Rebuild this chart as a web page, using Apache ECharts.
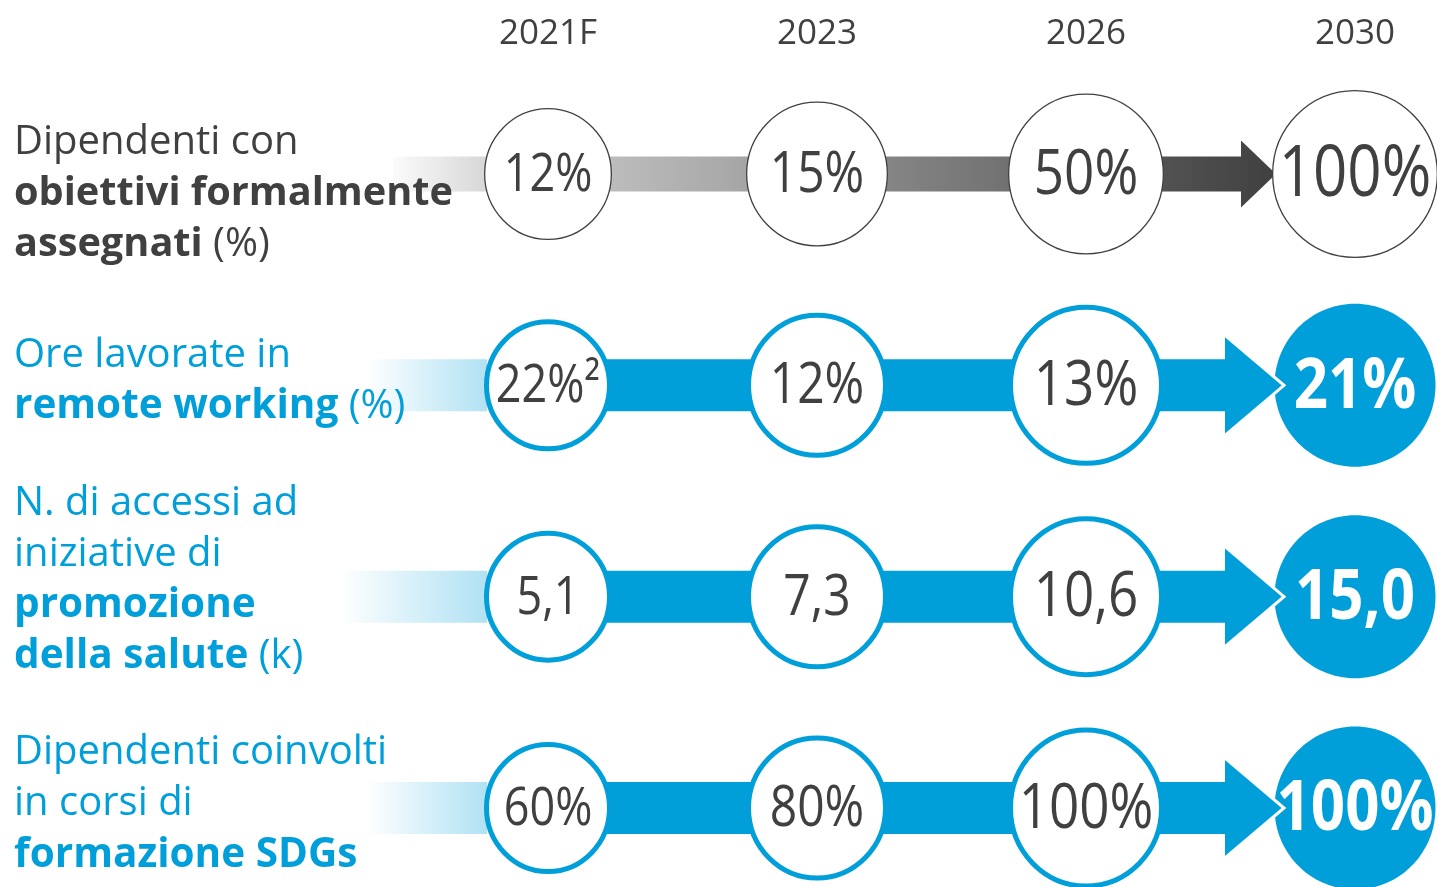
<!DOCTYPE html>
<html><head><meta charset="utf-8">
<script src="https://cdn.jsdelivr.net/npm/echarts@6/dist/echarts.min.js"></script>
<style>html,body{margin:0;padding:0;background:#fff}#c{width:1437px;height:887px}</style>
</head><body><div id="c"></div>
<script>
// ---------- DATA ----------
const years = ['2021F', '2023', '2026', '2030'];
const metrics = ['obiettivi', 'remote', 'salute', 'sdgs'];
const metricLabels = [
  '{g|Dipendenti con}\n{gb|obiettivi formalmente}\n{gb|assegnati}{g| (%)}',
  '{c|Ore lavorate in}\n{cb|remote working}{c| (%)}',
  '{c|N. di accessi ad}\n{c|iniziative di}\n{cb|promozione}\n{cb|della salute}{c| (k)}',
  '{c|Dipendenti coinvolti}\n{c|in corsi di}\n{cb|formazione SDGs}'
];
const obiettiviValues = [12, 15, 50, 100];
const remoteValues = [22, 12, 13, 21];
const saluteValues = [5.1, 7.3, 10.6, 15.0];
const sdgsValues = [60, 80, 100, 100];
const valueUnits = ['%', '%', '', '%'];
const valueDecimals = [0, 0, 1, 0];
const remoteFootnotes = ['²', '', '', ''];

// ---------- STYLE ----------
const GRAY = '#404040', BLUE = '#009FDA', FONT = '"Open Sans", "Noto Sans", sans-serif';
const circleRx = [64, 71, 78, 83];
const circleRy = [66, 72.5, 80.5, 84];
const valueFontSize = [45, 48, 53, 60];
const valueScaleY = 1.18;
const rowStyle = [
  { gray: true, fade: 155, bandH: 35, headH: 67, headLen: 35, tipGap: 4, labelPad: [40, 0, 0, 0] },
  { gray: false, fade: 181, bandH: 52, headH: 100, headLen: 59, tipGap: 12, labelPad: [0, 0, 8, 0] },
  { gray: false, fade: 208, bandH: 52, headH: 100, headLen: 59, tipGap: 12, labelPad: [0, 0, 34, 0] },
  { gray: false, fade: 181, bandH: 52, headH: 100, headLen: 59, tipGap: 12, labelPad: [0, 0, 8, 0] }
];

const allValues = [obiettiviValues, remoteValues, saluteValues, sdgsValues];
const notes = [[], remoteFootnotes, [], []];
function fmt(r, c) {
  const v = allValues[r][c];
  let s = v.toFixed(valueDecimals[r]).replace('.', ',') + valueUnits[r];
  if (notes[r][c]) s += notes[r][c];
  return s;
}

const circleData = [];
metrics.forEach((m, r) => years.forEach((y, c) => circleData.push([y, m, allValues[r][c], r, c])));
const rowData = metrics.map((m, r) => [years[0], m, r]);

function geom(api, r) {
  const p0 = api.coord([years[0], metrics[r]]);
  const p3 = api.coord([years[3], metrics[r]]);
  const s = rowStyle[r];
  const tip = p3[0] - circleRx[3] + s.tipGap;
  const base = tip - s.headLen;
  return { x0: p0[0], y: p0[1], tip, base, s };
}

function renderBand(params, api) {
  const r = params.dataIndex;
  const g = geom(api, r);
  const s = g.s, y = g.y, bh = s.bandH / 2, hh = s.headH / 2;
  if (s.gray) {
    const start = g.x0 - s.fade;
    return {
      type: 'polygon',
      shape: { points: [[start, y - bh], [g.base, y - bh], [g.base, y - hh], [g.tip, y], [g.base, y + hh], [g.base, y + bh], [start, y + bh]] },
      style: {
        fill: new echarts.graphic.LinearGradient(0, 0, 1, 0, [
          { offset: 0, color: '#fbfbfb' }, { offset: 0.103, color: '#d8d8d8' },
          { offset: 0.248, color: '#bcbcbc' }, { offset: 0.378, color: '#a9a9a9' },
          { offset: 0.54, color: '#888888' }, { offset: 0.674, color: '#757575' },
          { offset: 0.85, color: '#555555' }, { offset: 1, color: '#404040' }
        ])
      }
    };
  }
  const fadeEnd = g.x0 - circleRx[0] + 3;
  return {
    type: 'group',
    children: [
      {
        type: 'rect',
        shape: { x: g.x0 - s.fade, y: y - bh, width: fadeEnd - (g.x0 - s.fade), height: s.bandH },
        style: {
          fill: new echarts.graphic.LinearGradient(0, 0, 1, 0, [
            { offset: 0, color: 'rgba(0,159,218,0)' }, { offset: 1, color: 'rgba(0,159,218,0.31)' }
          ])
        }
      },
      {
        type: 'polygon',
        shape: { points: [[g.x0, y - bh], [g.base, y - bh], [g.base, y - hh], [g.tip, y], [g.base, y + hh], [g.base, y + bh], [g.x0, y + bh]] },
        style: { fill: BLUE }
      }
    ]
  };
}

function renderHead(params, api) {
  const r = params.dataIndex;
  const g = geom(api, r);
  const s = g.s, y = g.y, hh = s.headH / 2;
  if (s.gray) return { type: 'group', children: [] };
  return {
    type: 'group',
    children: [
      { type: 'polygon', shape: { points: [[g.base, y - hh], [g.tip, y], [g.base, y + hh]] }, style: { fill: BLUE } },
      { type: 'polyline', shape: { points: [[g.base, y - hh], [g.tip, y], [g.base, y + hh]] }, style: { stroke: '#fff', lineWidth: 3, fill: null, lineJoin: 'miter' } }
    ]
  };
}

function renderCircle(params, api) {
  const item = circleData[params.dataIndex];
  const r = item[3], c = item[4];
  const p = api.coord([item[0], item[1]]);
  const s = rowStyle[r];
  const filled = !s.gray && c === 3;
  const bw = s.gray ? 1.3 : 5;
  const ell = {
    type: 'ellipse',
    shape: { cx: p[0], cy: p[1], rx: circleRx[c] - bw / 2, ry: circleRy[c] - bw / 2 },
    style: filled ? { fill: BLUE } : { fill: '#fff', stroke: s.gray ? GRAY : BLUE, lineWidth: bw }
  };
  const txt = {
    type: 'text',
    x: p[0], y: p[1] + 2, scaleY: valueScaleY,
    style: {
      text: fmt(r, c), x: 0, y: 0, align: 'center', verticalAlign: 'middle',
      fill: filled ? '#fff' : GRAY,
      font: (filled ? 'bold ' : '') + valueFontSize[c] + 'px ' + FONT
    }
  };
  return { type: 'group', children: [ell, txt] };
}

const chart = echarts.init(document.getElementById('c'));
chart.setOption({
  animation: false,
  grid: { left: 548, right: 82, top: 174, bottom: 79, containLabel: false, outerBoundsMode: 'none' },
  xAxis: {
    type: 'category', position: 'top', data: years, boundaryGap: false,
    axisLine: { show: false }, axisTick: { show: false }, splitLine: { show: false },
    axisLabel: { interval: 0, margin: 122, fontSize: 35, color: GRAY, fontFamily: FONT }
  },
  yAxis: {
    type: 'category', inverse: true, boundaryGap: false, z: 10,
    data: metrics.map((m, r) => ({ value: m, textStyle: { padding: rowStyle[r].labelPad, align: 'left' } })),
    axisLine: { show: false }, axisTick: { show: false }, splitLine: { show: false },
    axisLabel: {
      interval: 0, align: 'left', margin: 534,
      formatter: (v) => metricLabels[metrics.indexOf(v)],
      rich: {
        g: { fontFamily: FONT, fontSize: 40, lineHeight: 51, color: GRAY, align: 'left' },
        gb: { fontFamily: FONT, fontSize: 39.7, lineHeight: 51, color: GRAY, fontWeight: 'bold', align: 'left' },
        c: { fontFamily: FONT, fontSize: 40, lineHeight: 51, color: BLUE, align: 'left' },
        cb: { fontFamily: FONT, fontSize: 40.5, lineHeight: 51, color: BLUE, fontWeight: 'bold', align: 'left' }
      }
    }
  },
  series: [
    { type: 'custom', name: 'bands', z: 1, data: rowData, encode: { x: 0, y: 1 }, renderItem: renderBand, silent: true },
    { type: 'custom', name: 'circles', z: 2, data: circleData, encode: { x: 0, y: 1 }, renderItem: renderCircle, silent: true },
    { type: 'custom', name: 'heads', z: 3, data: rowData, encode: { x: 0, y: 1 }, renderItem: renderHead, silent: true }
  ]
});
</script></body></html>
